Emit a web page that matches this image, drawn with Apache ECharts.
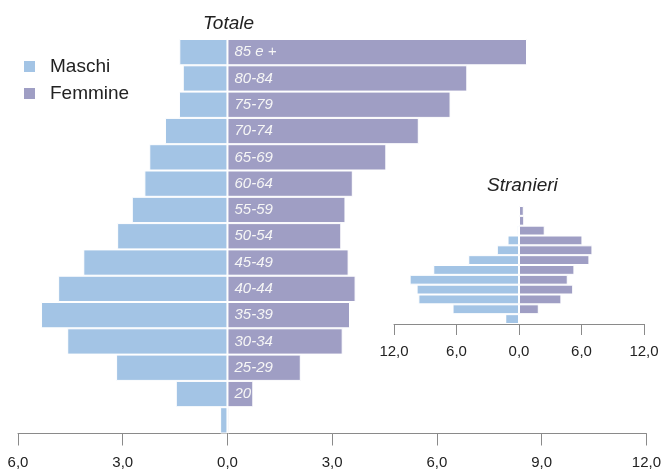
<!DOCTYPE html>
<html>
<head>
<meta charset="utf-8">
<style>
html,body{margin:0;padding:0;background:#fff;}
#chart{width:664px;height:472px;}
</style>
<script src="https://cdn.jsdelivr.net/npm/echarts@6/dist/echarts.min.js"></script>
</head>
<body>
<div id="chart"></div>
<script>
var categories = ['85 e +','80-84','75-79','70-74','65-69','60-64','55-59','50-54','45-49','40-44','35-39','30-34','25-29','20-24','15-19'];
var maschiTotale = [-1.38,-1.28,-1.39,-1.79,-2.24,-2.38,-2.74,-3.16,-4.13,-4.85,-5.34,-4.59,-3.19,-1.48,-0.21];
var femmineTotale = [8.58,6.87,6.39,5.48,4.55,3.59,3.38,3.26,3.47,3.67,3.51,3.30,2.10,0.74,0.05];
var maschiStranieri = [0,0,0,0,-0.1,-0.2,-1.1,-2.13,-4.87,-8.23,-10.5,-9.83,-9.66,-6.38,-1.32];
var femmineStranieri = [0,0,0,0.46,0.5,2.47,6.09,7.05,6.76,5.32,4.68,5.2,4.07,1.9,0];
var ticksTotale = {min:-6, max:12, interval:3};
var ticksStranieri = {min:-12, max:12, interval:6};

var FONT = 'Liberation Sans';
var cMaschi = '#a3c4e5';
var cFemmine = '#9f9ec4';
var LABEL_DIST = 7;

function fmt(v){ return Math.abs(v).toFixed(1).replace('.', ','); }

var chart = echarts.init(document.getElementById('chart'));
var axisCommon = {
  type:'value',
  splitLine:{show:false},
  axisLine:{show:true, lineStyle:{color:'#8a8a8a', width:1}}
};
chart.setOption({
  animation:false,
  textStyle:{fontFamily:FONT},
  title:[
    {text:'Totale', left:198, top:9,
     textStyle:{fontFamily:FONT, fontStyle:'italic', fontWeight:'normal', fontSize:19, color:'#222'}},
    {text:'Stranieri', left:482, top:171,
     textStyle:{fontFamily:FONT, fontStyle:'italic', fontWeight:'normal', fontSize:19, color:'#222'}}
  ],
  legend:{
    orient:'vertical', left:17, top:52, itemWidth:13, itemHeight:13, itemGap:8,
    icon:'rect',
    textStyle:{fontFamily:FONT, fontSize:19, color:'#222', padding:[0,0,0,9]},
    data:['Maschi','Femmine']
  },
  grid:[
    {left:18, right:16, top:39, bottom:38.5},
    {left:394, right:20, top:176.5, bottom:148}
  ],
  xAxis:[
    Object.assign({}, axisCommon, {gridIndex:0, min:ticksTotale.min, max:ticksTotale.max, interval:ticksTotale.interval,
      axisTick:{show:true, length:12, lineStyle:{color:'#8a8a8a'}},
      axisLabel:{formatter:fmt, fontFamily:FONT, fontSize:15, color:'#222', margin:22}}),
    Object.assign({}, axisCommon, {gridIndex:1, min:ticksStranieri.min, max:ticksStranieri.max, interval:ticksStranieri.interval,
      axisTick:{show:true, length:11, lineStyle:{color:'#8a8a8a'}},
      axisLabel:{formatter:fmt, fontFamily:FONT, fontSize:15, color:'#222', margin:20}})
  ],
  yAxis:[
    {type:'category', gridIndex:0, data:categories, inverse:true, axisLine:{show:false}, axisTick:{show:false}, axisLabel:{show:false}},
    {type:'category', gridIndex:1, data:categories, inverse:true, axisLine:{show:false}, axisTick:{show:false}, axisLabel:{show:false}}
  ],
  series:[
    {name:'Maschi', type:'bar', xAxisIndex:0, yAxisIndex:0, stack:'tot', data:maschiTotale,
     barCategoryGap:'0%', itemStyle:{color:cMaschi, borderColor:'#fff', borderWidth:1}},
    {name:'Femmine', type:'bar', xAxisIndex:0, yAxisIndex:0, stack:'tot', data:femmineTotale,
     barCategoryGap:'0%', itemStyle:{color:cFemmine, borderColor:'#fff', borderWidth:1},
     label:{show:true, position:'insideLeft', distance:LABEL_DIST, formatter:'{b}', color:'#f6f6f6',
            textBorderWidth:0, overflow:'truncate', ellipsis:'',
            fontFamily:FONT, fontStyle:'italic', fontSize:15}},
    {name:'Maschi', type:'bar', xAxisIndex:1, yAxisIndex:1, stack:'str', data:maschiStranieri,
     barCategoryGap:'0%', itemStyle:{color:cMaschi, borderColor:'#fff', borderWidth:1}},
    {name:'Femmine', type:'bar', xAxisIndex:1, yAxisIndex:1, stack:'str', data:femmineStranieri,
     barCategoryGap:'0%', itemStyle:{color:cFemmine, borderColor:'#fff', borderWidth:1}}
  ]
});

// Clip each age label to the width of its own bar, measured through the axis scale.
var zeroPx = chart.convertToPixel({xAxisIndex:0}, 0);
var femData = femmineTotale.map(function(v){
  var barPx = chart.convertToPixel({xAxisIndex:0}, v) - zeroPx;
  var w = Math.max(1, barPx - LABEL_DIST - 1);
  var item = {value:v, label:{width:w}};
  if (barPx - LABEL_DIST < 6) item.label.show = false;
  return item;
});
chart.setOption({series:[{}, {data:femData}, {}, {}]});
</script>
</body>
</html>
